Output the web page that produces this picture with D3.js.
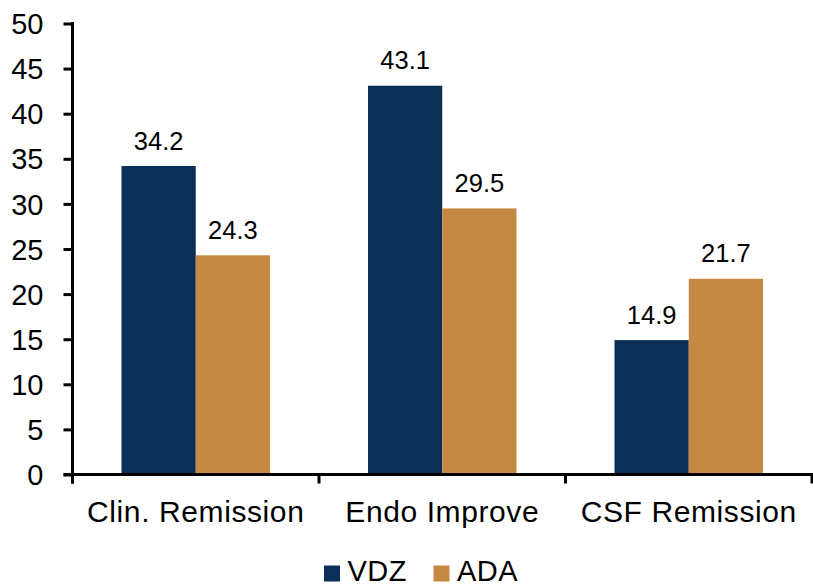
<!DOCTYPE html>
<html>
<head>
<meta charset="utf-8">
<script src="https://cdn.jsdelivr.net/npm/d3@7"></script>
<style>
  html, body { margin: 0; padding: 0; background: #fff; }
  svg { display: block; font-family: Arial, "Liberation Sans", sans-serif; }
</style>
</head>
<body>
<svg id="chart" width="813" height="584"></svg>
<script>
// Response rates by endpoint, vedolizumab vs adalimumab
const categories = ["Clin. Remission", "Endo Improve", "CSF Remission"];
const seriesNames = ["VDZ", "ADA"];
const vdzValues = [34.2, 43.1, 14.9];
const adaValues = [24.3, 29.5, 21.7];
const yTicks = [0, 5, 10, 15, 20, 25, 30, 35, 40, 45, 50];
const colors = ["#0B2F56", "#C68943"];

const seriesValues = [vdzValues, adaValues];

const svg = d3.select("#chart");
const plotLeft = 72.5, plotRight = 812, plotTop = 23.5, plotBottom = 474.5;

const x0 = d3.scaleBand().domain(categories).range([plotLeft, plotRight]).padding(0);
// bars fill the middle ~60% of each category band
const x1 = d3.scaleBand().domain(seriesNames)
  .range([0, x0.bandwidth()]).paddingOuter(0.66).paddingInner(0);
const y = d3.scaleLinear().domain([0, 50]).range([plotBottom, plotTop]);

// bars
const groups = svg.append("g").selectAll("g")
  .data(categories)
  .join("g")
  .attr("transform", d => `translate(${x0(d)},0)`);

groups.selectAll("rect")
  .data((c, i) => seriesNames.map((s, j) => ({ s, v: seriesValues[j][i], j })))
  .join("rect")
  .attr("x", d => x1(d.s))
  .attr("width", x1.bandwidth())
  .attr("y", d => y(d.v))
  .attr("height", d => y(0) - y(d.v))
  .attr("fill", d => colors[d.j]);

// value labels
groups.selectAll("text")
  .data((c, i) => seriesNames.map((s, j) => ({ s, v: seriesValues[j][i] })))
  .join("text")
  .attr("x", d => x1(d.s) + x1.bandwidth() / 2)
  .attr("y", d => y(d.v) - 16.5)
  .attr("text-anchor", "middle")
  .attr("font-size", 25.5)
  .attr("fill", "#000")
  .text(d => d.v.toFixed(1));

// y axis
const yAxis = svg.append("g")
  .attr("transform", `translate(${plotLeft},0)`)
  .call(d3.axisLeft(y).tickValues(yTicks).tickSize(9).tickPadding(20).tickSizeOuter(0));
yAxis.select(".domain").attr("stroke", "#000").attr("stroke-width", 3)
  .attr("d", `M0,${plotTop - 1.5} V${plotBottom + 9}`);
yAxis.selectAll(".tick line").attr("stroke", "#000").attr("stroke-width", 3);
yAxis.selectAll(".tick text")
  .attr("font-size", 29).attr("font-family", "Arial, 'Liberation Sans', sans-serif")
  .attr("fill", "#000").attr("dy", "0.35em");

// x axis: ticks mark category boundaries
const xAxis = svg.append("g")
  .attr("transform", `translate(0,${plotBottom})`);
xAxis.append("line")
  .attr("x1", plotLeft - 9).attr("x2", plotRight + 1.5)
  .attr("y1", 0).attr("y2", 0)
  .attr("stroke", "#000").attr("stroke-width", 3);
const boundaries = categories.map(c => x0(c) + x0.bandwidth()).concat([x0(categories[0])]);
xAxis.selectAll("line.tick")
  .data(boundaries)
  .join("line")
  .attr("class", "tick")
  .attr("x1", d => d).attr("x2", d => d)
  .attr("y1", 0).attr("y2", 9)
  .attr("stroke", "#000").attr("stroke-width", 3);
xAxis.selectAll("text")
  .data(categories)
  .join("text")
  .attr("x", d => x0(d) + x0.bandwidth() / 2)
  .attr("y", 47)
  .attr("text-anchor", "middle")
  .attr("font-size", 30)
  .attr("letter-spacing", "0.6px")
  .attr("fill", "#000")
  .text(d => d);

// legend
const legend = svg.append("g").attr("transform", "translate(324,565.5)");
const legendOffsets = [0, 109.5];
const items = legend.selectAll("g")
  .data(seriesNames)
  .join("g")
  .attr("transform", (d, i) => `translate(${legendOffsets[i]},0)`);
items.append("rect")
  .attr("width", 16).attr("height", 16)
  .attr("fill", (d, i) => colors[i]);
items.append("text")
  .attr("x", 23.5).attr("y", 15.5)
  .attr("font-size", 29)
  .attr("letter-spacing", "0.5px")
  .attr("fill", "#000")
  .text(d => d);
</script>
</body>
</html>
